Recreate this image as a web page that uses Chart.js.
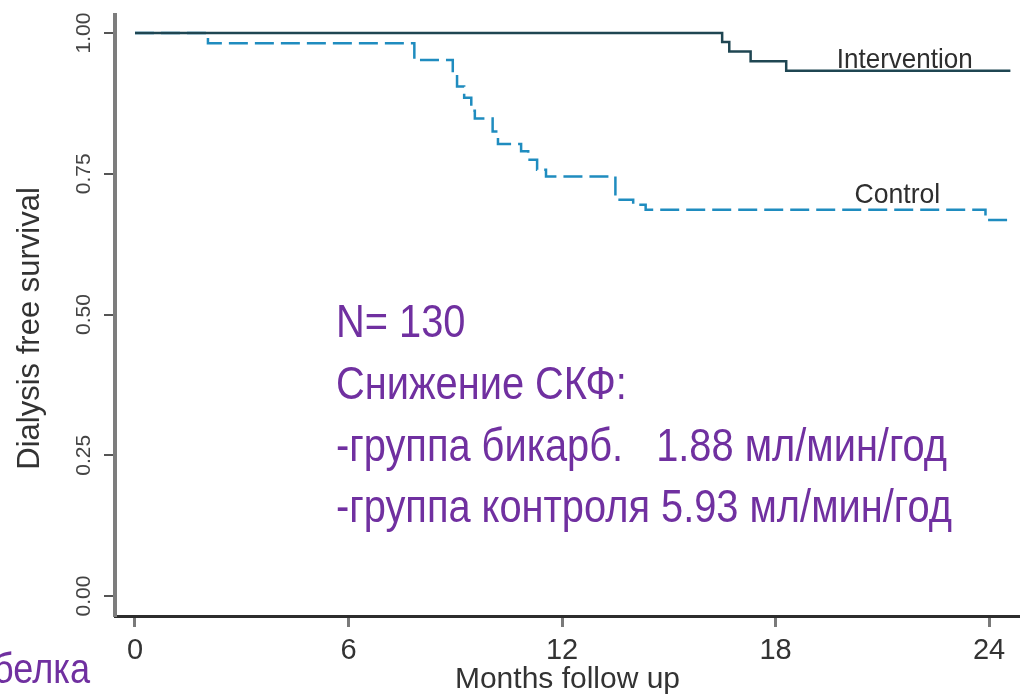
<!DOCTYPE html>
<html>
<head>
<meta charset="utf-8">
<script src="https://cdn.jsdelivr.net/npm/chart.js@4.4.1/dist/chart.umd.min.js"></script>
<style>
  html, body { margin: 0; padding: 0; background: #fff; }
  #chart { display: block; }
</style>
</head>
<body>
<canvas id="chart" width="1020" height="696"></canvas>
<script>
// Kaplan-Meier steps: month of each event and survival after it
const interventionMonths = [0, 16.5, 16.7, 17.3, 18.3, 24.6];
const interventionSurvival = [1.0, 0.984, 0.967, 0.95, 0.933, 0.933];

const controlMonths = [0, 2.05, 7.85, 8.93, 9.05, 9.25, 9.45, 9.55, 10.05, 10.2, 10.85, 11.05, 11.3, 11.55, 13.5, 14.0, 14.35, 23.9, 24.6];
const controlSurvival = [1.0, 0.982, 0.952, 0.93, 0.905, 0.885, 0.862, 0.848, 0.825, 0.803, 0.79, 0.775, 0.757, 0.745, 0.704, 0.695, 0.686, 0.668, 0.668];

const xTicks = [0, 6, 12, 18, 24];
const yTicks = [0, 0.25, 0.5, 0.75, 1];
const yTickLabels = ["0.00", "0.25", "0.50", "0.75", "1.00"];
const seriesNames = ["Intervention", "Control"];

const noteLines = [
  "N= 130",
  "Снижение СКФ:",
  "-группа бикарб.   1.88 мл/мин/год",
  "-группа контроля 5.93 мл/мин/год"
];
const noteTail = "белка";

const FONT = "'Liberation Sans', Arial, sans-serif";

const toPoints = (xs, ys) => xs.map((m, i) => ({ x: m, y: ys[i] }));

// text squeezed horizontally (no condensed face installed)
function narrowText(ctx, text, x, y, font, sx, align) {
  ctx.save();
  ctx.translate(x, y);
  ctx.scale(sx, 1);
  ctx.font = font;
  ctx.textAlign = align || "left";
  ctx.fillText(text, 0, 0);
  ctx.restore();
}

// keep the plot box fixed, whatever the label sizes
const noPad = (s) => { s.paddingTop = 0; s.paddingBottom = 0; s.paddingLeft = 0; s.paddingRight = 0; };

// series labels + purple notes
const annotate = {
  id: "annotate",
  afterDatasetsDraw(chart) {
    const { ctx, scales: { x, y } } = chart;
    ctx.save();
    ctx.textBaseline = "alphabetic";
    ctx.fillStyle = "#2e2e2e";
    narrowText(ctx, seriesNames[0], x.getPixelForValue(19.72), y.getPixelForValue(interventionSurvival[4]) - 3, "28px " + FONT, 0.93);
    narrowText(ctx, seriesNames[1], x.getPixelForValue(20.22), y.getPixelForValue(controlSurvival[16]) - 7, "28px " + FONT, 0.95);

    ctx.fillStyle = "#7030a0";
    const baselines = [337, 399, 461, 522];
    noteLines.forEach((t, i) => narrowText(ctx, t, 336, baselines[i], "46px " + FONT, 0.865));
    narrowText(ctx, noteTail, 90, 683, "43px " + FONT, 0.84, "right");
    ctx.restore();
  }
};

new Chart(document.getElementById("chart"), {
  type: "line",
  data: {
    datasets: [
      {
        label: seriesNames[0],
        data: toPoints(interventionMonths, interventionSurvival),
        borderColor: "#1f4652",
        borderWidth: 2.5,
        stepped: true,
        pointRadius: 0
      },
      {
        label: seriesNames[1],
        data: toPoints(controlMonths, controlSurvival),
        borderColor: "#1f8cbf",
        borderWidth: 2.5,
        borderDash: [19, 7],
        stepped: true,
        pointRadius: 0
      }
    ]
  },
  options: {
    responsive: false,
    animation: false,
    layout: { padding: { top: 15, right: 0, bottom: 0, left: 0 } },
    plugins: { legend: { display: false }, tooltip: { enabled: false } },
    scales: {
      x: {
        type: "linear",
        min: -0.562,
        max: 24.87,
        afterBuildTicks: (s) => { s.ticks = xTicks.map(v => ({ value: v })); },
        afterFit: (s) => { s.height = 80; noPad(s); },
        grid: { drawOnChartArea: false, drawTicks: true, tickLength: 11, color: "#7a7a7a", lineWidth: 3 },
        border: { display: true, color: "#2d2d2d", width: 3 },
        ticks: {
          autoSkip: false,
          maxRotation: 0,
          padding: 7,
          color: "#333",
          font: { family: FONT, size: 29 }
        },
        title: {
          display: true,
          text: "Months follow up",
          color: "#333",
          font: { family: FONT, size: 30, lineHeight: 1 },
          padding: { top: 0, bottom: 1 }
        }
      },
      y: {
        min: -0.0355,
        max: 1.032,
        afterBuildTicks: (s) => { s.ticks = yTicks.map(v => ({ value: v })); },
        afterFit: (s) => { s.width = 115; noPad(s); },
        grid: { drawOnChartArea: false, drawTicks: true, tickLength: 11, color: "#555", lineWidth: 2 },
        border: { display: true, color: "#7d7d7d", width: 4 },
        ticks: {
          minRotation: 90,
          maxRotation: 90,
          crossAlign: "center",
          padding: -1,
          color: "#444",
          font: { family: FONT, size: 21 },
          callback: (v) => yTickLabels[yTicks.indexOf(v)]
        },
        title: {
          display: true,
          text: "Dialysis free survival   ",
          color: "#333",
          font: { family: FONT, size: 31 },
          padding: { top: 12, bottom: 0 }
        }
      }
    }
  },
  plugins: [annotate]
});
</script>
</body>
</html>
